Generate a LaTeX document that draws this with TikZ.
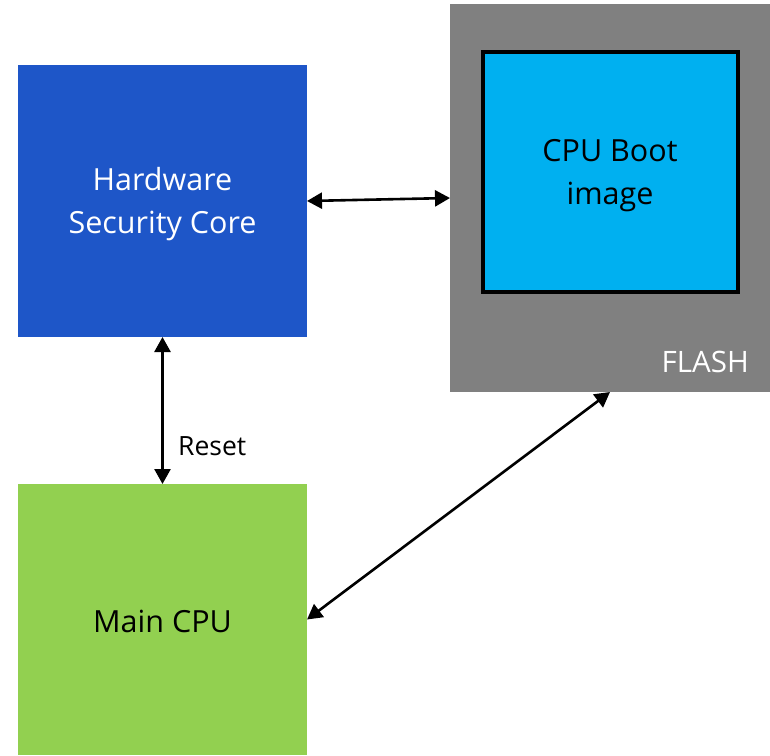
\documentclass[tikz,border=0pt]{standalone}
\usepackage{fontspec}
\setmainfont{Open Sans}
\usetikzlibrary{arrows.meta}

\definecolor{hscblue}{RGB}{30,86,200}
\definecolor{flashgray}{RGB}{128,128,128}
\definecolor{bootcyan}{RGB}{0,176,240}
\definecolor{cpugreen}{RGB}{146,208,80}

\tikzset{
  block/.style={rectangle, inner sep=0pt, outer sep=0pt},
  blocktext/.style={align=center, inner sep=0pt, font=\fontsize{30.5}{43}\selectfont},
  link/.style={line width=2.6pt, {Triangle[length=15pt,width=16pt]}-{Triangle[length=15pt,width=16pt]}},
}

\begin{document}
\begin{tikzpicture}[x=1pt,y=-1pt]
  \useasboundingbox (0,0) rectangle (770,755);

  % flash device with the boot image inside
  \node[block, fill=flashgray, minimum width=320pt, minimum height=388pt] (flash) at (610,198) {};
  \node[block, fill=bootcyan, draw=black, line width=4pt, minimum width=255pt, minimum height=240pt] (boot) at (610.5,172) {};
  \node[blocktext, text=black] (boottxt) at (610,176) {CPU Boot\\image};
  \node[font=\fontsize{29.5}{36}\selectfont, text=white, anchor=east, inner sep=0pt] (flashlbl) at (749,362) {FLASH};

  % security core and main processor
  \node[block, fill=hscblue, minimum width=289pt, minimum height=272pt] (hsc) at (162.5,201) {};
  \node[blocktext, text=white] (hsctxt) at (162.5,204) {Hardware\\Security Core};
  \node[block, fill=cpugreen, minimum width=289pt, minimum height=271pt] (cpu) at (162.5,619.5) {};
  \node[blocktext, text=black] (cputxt) at (162.5,621) {Main CPU};

  % connections
  \draw[link] (hsc.east) -- (flash.west);
  \draw[link] (hsc.south) -- (cpu.north);
  \draw[link] (cpu.east) -- (flash.south);
  \node[font=\fontsize{26.5}{30}\selectfont, anchor=west, inner sep=0pt] (reset) at (178,446) {Reset};
\end{tikzpicture}
\end{document}
